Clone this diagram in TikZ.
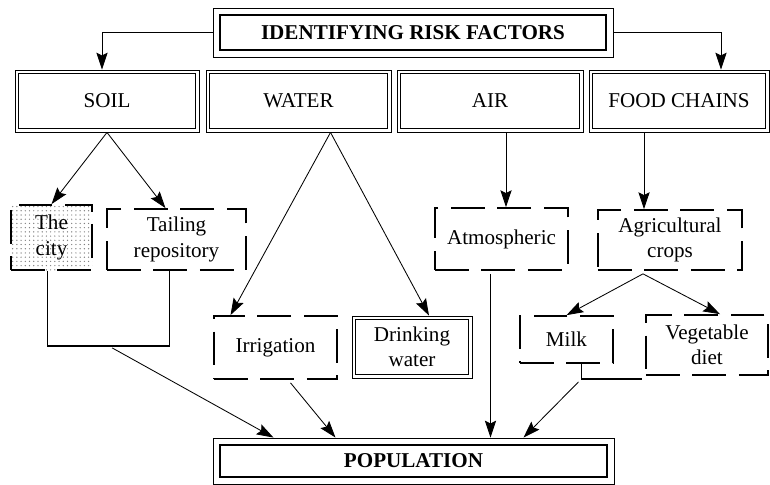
\documentclass[tikz,border=0pt]{standalone}
\usepackage{fontspec}
\setmainfont{Liberation Serif}
\usetikzlibrary{arrows.meta,calc,patterns}

\tikzset{
  box/.style={draw, line width=0.6pt, inner sep=0pt, align=center,
    font=\fontsize{15}{18}\selectfont},
  % outer thin frame plus an inner frame set in by #2
  double frame/.style 2 args={box, path picture={
      \draw[line width=#1]
        ([shift={(#2,#2)}]path picture bounding box.south west) rectangle
        ([shift={(-#2,-#2)}]path picture bounding box.north east);}},
  dbox/.style={box, line width=1.2pt, dash pattern=on 24pt off 9pt},
  arr/.style={->, line width=0.6pt},
  joinline/.style={line width=1pt},
}

\begin{document}
\begin{tikzpicture}[x=0.025cm, y=-0.025cm, >={Stealth[length=12pt,width=8pt,inset=2pt]}]
    \useasboundingbox (0,0) rectangle (770,485);
    \clip (0,0) rectangle (770,485);

    % Header
    \node[double frame={1.4pt}{5pt}, font=\fontsize{15}{18}\selectfont\bfseries,
      minimum width=10cm, minimum height=1.225cm] (title) at (413,32.5) {IDENTIFYING RISK FACTORS};

    % Four pathways
    \foreach \name/\x/\w/\txt in {soil/107/4.6/SOIL, water/298.5/4.625/WATER,
        air/490/4.65/AIR, food/679/4.5/FOOD CHAINS}
      \node[double frame={0.7pt}{2.8pt}, minimum width=\w cm, minimum height=1.55cm]
        (\name) at (\x,101) {\txt};

    % Sources (dashed)
    \node[dbox, pattern=dots, pattern color=gray, minimum width=2.025cm, minimum height=1.625cm]
      (city) at (51.5,237.5) {The\\city};
    \node[dbox, minimum width=3.475cm, minimum height=1.525cm] (tailing) at (176.5,239.5) {Tailing\\repository};
    \node[dbox, minimum width=3.325cm, minimum height=1.55cm] (atmo) at (501.5,239) {Atmospheric};
    \node[dbox, minimum width=3.6cm, minimum height=1.5cm] (crops) at (670,240) {Agricultural\\crops};
    \node[dbox, minimum width=3.075cm, minimum height=1.575cm] (irrig) at (275.5,347.5) {Irrigation};
    \node[double frame={0.7pt}{2.2pt}, minimum width=3cm, minimum height=1.55cm] (drink) at (412,347) {Drinking\\water};
    \node[dbox, minimum width=2.325cm, minimum height=1.175cm] (milk) at (566.5,339.5) {Milk};
    \node[dbox, minimum width=3.05cm, minimum height=1.5cm] (veg) at (707,345) {Vegetable\\diet};

    % Target
    \node[double frame={1.4pt}{5pt}, font=\fontsize{15}{18}\selectfont\bfseries,
      minimum width=10.025cm, minimum height=1.15cm] (popul) at (413.5,461) {POPULATION};

    % Header to pathways
    \draw[arr] (title.west) -| ($(soil.north)+(-5,0)$);
    \draw[arr] (title.east) -| ($(food.north)+(42,0)$);

    % Pathways to sources
    \draw[arr] (soil.south) -- (city.north);
    \draw[arr] (soil.south) -- ($(tailing.north)+(-11,0)$);
    \draw[arr] ($(water.south)+(32,0)$) -- ($(irrig.north)+(-45,0)$);
    \draw[arr] ($(water.south)+(32,0)$) -- ($(drink.north)+(17,0)$);
    \draw[arr] ($(air.south)+(16,0)$) coordinate (a) -- (a |- atmo.north);
    \draw[arr] ($(food.south)+(-35,0)$) coordinate (f) -- (f |- crops.north);
    \draw[arr] ($(crops.south)+(-27,3)$) -- (milk.north);
    \draw[arr] ($(crops.south)+(-27,3)$) -- ($(veg.north)+(13,0)$);

    % Sources to population
    \coordinate (cityout) at ($(city.south)+(-4,0)$);
    \coordinate (tailout) at ($(tailing.south)+(-7,0)$);
    \draw[joinline] (cityout) -- ++(0,75) -| (tailout);
    \draw[arr, shorten <=3pt] ($(cityout)!0.5!(tailout)+(0,75)$) -- ($(popul.north)+(-140,0)$);
    \draw[arr] ($(irrig.south)+(15,3)$) -- ($(popul.north)+(-78,0)$);
    \draw[arr] ($(atmo.south)+(-11,3)$) coordinate (b) -- (b |- popul.north);
    \coordinate (milkout) at ($(milk.south)+(15,0)$);
    \draw[joinline] (milkout) |- ($(veg.south west)+(-3,3)$);
    \draw[arr, shorten <=3pt] ($(milkout)+(0,15)$) -- ($(popul.north)+(110,0)$);
\end{tikzpicture}
\end{document}
